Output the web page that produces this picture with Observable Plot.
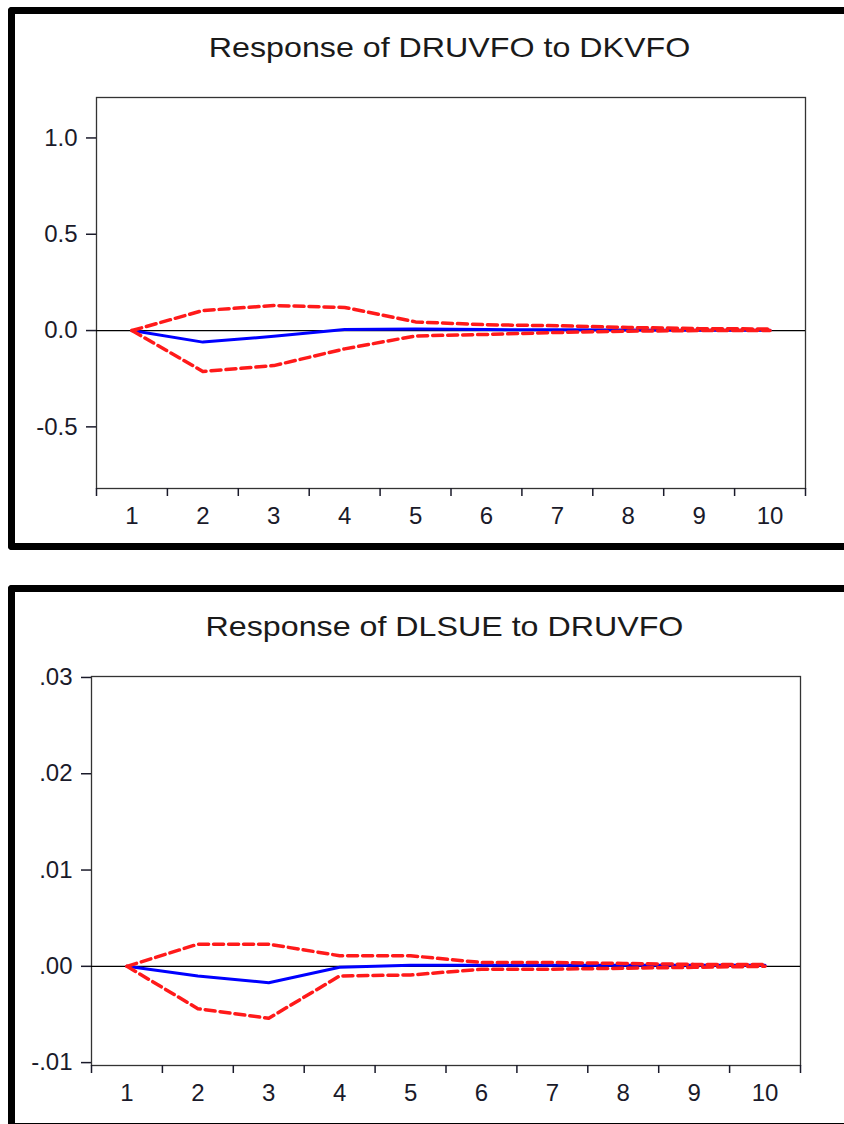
<!DOCTYPE html>
<html>
<head>
<meta charset="utf-8">
<script src="https://cdn.jsdelivr.net/npm/d3@7"></script>
<script src="https://cdn.jsdelivr.net/npm/@observablehq/plot@0.6"></script>
<style>
  html, body { margin: 0; padding: 0; background: #fff; width: 844px; height: 1124px; overflow: hidden; position: relative; }
  .box { position: absolute; left: 8px; width: 900px; border: 7px solid #000; border-right: none; box-sizing: border-box; border-radius: 4px 0 0 4px; }
  .title { position: absolute; font-family: "Liberation Sans", Arial, sans-serif; font-size: 28px; line-height: 28px; color: #1a1a1a; text-align: center; white-space: nowrap; transform: scaleX(1.15); transform-origin: center; }
  .chart { position: absolute; left: 0; }
</style>
</head>
<body>
<div class="box" style="top:7px;height:543px;"></div>
<div class="box" style="top:585px;height:545px;"></div>
<div class="title" id="t1" style="left:95px;width:709px;top:34px;"></div>
<div class="title" id="t2" style="left:90px;width:709px;top:613px;"></div>
<div class="chart" id="c1" style="top:0px;"></div>
<div class="chart" id="c2" style="top:585px;"></div>
<script>
// ---- data ----
const periods = [1, 2, 3, 4, 5, 6, 7, 8, 9, 10];

const title1 = "Response of DRUVFO to DKVFO";
const resp1  = [0.000, -0.060, -0.030, 0.006, 0.008, 0.005, 0.004, 0.003, 0.002, 0.002];
const upper1 = [0.000, 0.104, 0.130, 0.120, 0.045, 0.030, 0.025, 0.016, 0.010, 0.008];
const lower1 = [0.000, -0.212, -0.182, -0.095, -0.028, -0.020, -0.010, -0.003, 0.000, 0.000];
const yTicks1 = [-0.5, 0.0, 0.5, 1.0];

const title2 = "Response of DLSUE to DRUVFO";
const resp2  = [0.0000, -0.0010, -0.0017, -0.0001, 0.0001, 0.0001, 0.0001, 0.0001, 0.0001, 0.0001];
const upper2 = [0.0000, 0.0023, 0.0023, 0.0011, 0.0011, 0.0004, 0.0004, 0.0003, 0.0002, 0.0002];
const lower2 = [0.0000, -0.0044, -0.0054, -0.0010, -0.0009, -0.0003, -0.0003, -0.0002, -0.0001, 0.0000];
const yTicks2 = [-0.01, 0.00, 0.01, 0.02, 0.03];

const boundaries = [0.5, 1.5, 2.5, 3.5, 4.5, 5.5, 6.5, 7.5, 8.5, 9.5, 10.5];

function table(resp, upper, lower) {
  return periods.map((p, i) => ({period: p, resp: resp[i], upper: upper[i], lower: lower[i]}));
}

function panel(opts) {
  const data = table(opts.resp, opts.upper, opts.lower);
  return Plot.plot({
    width: 844,
    height: opts.height,
    marginLeft: opts.ml, marginRight: opts.mr, marginTop: opts.mt, marginBottom: opts.mb,
    style: {fontFamily: "'Liberation Sans', Arial, sans-serif", fontSize: "24px", color: "#1a1a2a", background: "transparent", overflow: "visible"},
    x: {domain: [0.5, 10.5]},
    y: {domain: opts.ydomain},
    marks: [
      Plot.frame({stroke: "#333", strokeWidth: 1.3}),
      Plot.ruleY([0], {stroke: "#000", strokeWidth: 1.2}),
      Plot.axisY({ticks: opts.yticks, tickSize: 10, tickPadding: 9, tickFormat: opts.fmt, label: null, strokeWidth: 1.5}),
      Plot.axisX({ticks: boundaries, tickSize: 8, tickFormat: () => "", label: null, strokeWidth: 1.5}),
      Plot.axisX({ticks: periods, tickSize: 0, tickPadding: 18, tickFormat: d => String(d), label: null}),
      Plot.line(data, {x: "period", y: "resp", stroke: "#0000ff", strokeWidth: 3}),
      Plot.line(data, {x: "period", y: "upper", stroke: "#ff1a1a", strokeWidth: 3.5, strokeDasharray: "10,5"}),
      Plot.line(data, {x: "period", y: "lower", stroke: "#ff1a1a", strokeWidth: 3.5, strokeDasharray: "10,5"})
    ]
  });
}

document.getElementById("t1").textContent = title1;
document.getElementById("t2").textContent = title2;

document.getElementById("c1").appendChild(panel({
  height: 550, ml: 96, mr: 39, mt: 97, mb: 62,
  ydomain: [-0.82, 1.21], yticks: yTicks1,
  fmt: d => d.toFixed(1),
  resp: resp1, upper: upper1, lower: lower1
}));

document.getElementById("c2").appendChild(panel({
  height: 539, ml: 91, mr: 44, mt: 91, mb: 59,
  ydomain: [-0.0103, 0.0301], yticks: yTicks2,
  fmt: d => d.toFixed(2).replace("0.", "."),
  resp: resp2, upper: upper2, lower: lower2
}));
</script>
</body>
</html>
